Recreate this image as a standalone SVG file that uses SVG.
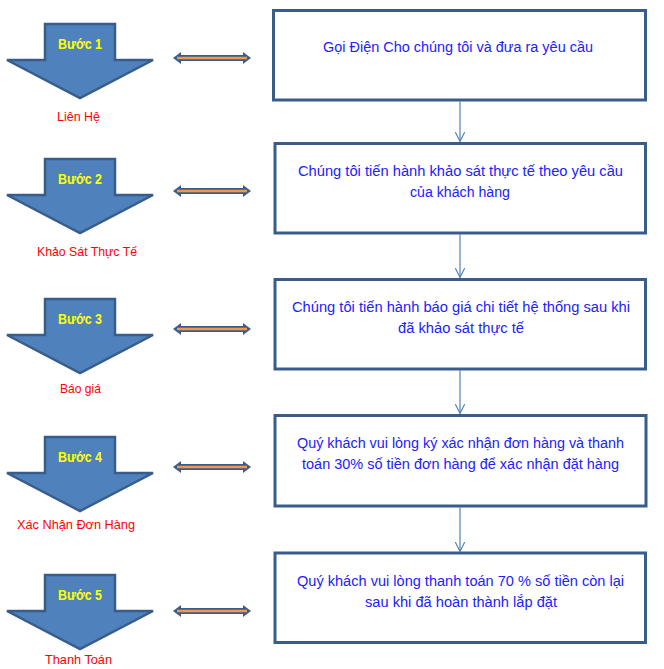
<svg xmlns="http://www.w3.org/2000/svg" width="664" height="669" viewBox="0 0 664 669">
<style>
.bg{fill:#ffffff}
.step{fill:#4f81bd;stroke:#385d8a;stroke-width:2.5;stroke-linejoin:miter}
.stepTxt{font-family:"Liberation Sans",Arial,sans-serif;font-size:14px;font-weight:bold;fill:#ffff00}
.lbl{font-family:"Liberation Sans",Arial,sans-serif;font-size:13px;fill:#ff0000}
.box{fill:#ffffff;stroke:#385d8a;stroke-width:3}
.boxTxt{font-family:"Liberation Sans",Arial,sans-serif;font-size:14px;fill:#2121ff;text-anchor:start}
.dbl{fill:#385d8a}
.dblIn{stroke:#f79646;stroke-width:2.5;fill:none}
.conn{stroke:#4f81bd;stroke-width:1.2;fill:none}
</style>
<defs>
<marker id="open" viewBox="0 0 10 10" refX="10" refY="5" markerWidth="10" markerHeight="10" markerUnits="userSpaceOnUse" orient="auto">
<path d="M0,0 L10,5 L0,10" fill="none" stroke="#4f81bd" stroke-width="1.2"/>
</marker>
<path id="downArrow" d="M45,0 L115,0 L115,36 L153,36 L80,74 L7,36 L45,36 Z"/>
<path id="dblArrow" d="M173,0 L181,-6 L181,-3 L243,-3 L243,-6 L251,0 L243,6 L243,3 L181,3 L181,6 Z"/>
</defs>
<rect class="bg" x="0" y="0" width="664" height="669"/>

<g id="connectors">
<line class="conn" x1="460" y1="101.5" x2="460" y2="141.5" marker-end="url(#open)"/>
<line class="conn" x1="460" y1="234.5" x2="460" y2="277.5" marker-end="url(#open)"/>
<line class="conn" x1="460" y1="370.5" x2="460" y2="413.5" marker-end="url(#open)"/>
<line class="conn" x1="460" y1="507.5" x2="460" y2="551.5" marker-end="url(#open)"/>
<g id="dbl1" transform="translate(0,58)"><use href="#dblArrow" class="dbl"/><line class="dblIn" x1="177" y1="0" x2="247" y2="0"/></g>
<g id="dbl2" transform="translate(0,191)"><use href="#dblArrow" class="dbl"/><line class="dblIn" x1="177" y1="0" x2="247" y2="0"/></g>
<g id="dbl3" transform="translate(0,329)"><use href="#dblArrow" class="dbl"/><line class="dblIn" x1="177" y1="0" x2="247" y2="0"/></g>
<g id="dbl4" transform="translate(0,467)"><use href="#dblArrow" class="dbl"/><line class="dblIn" x1="177" y1="0" x2="247" y2="0"/></g>
<g id="dbl5" transform="translate(0,611)"><use href="#dblArrow" class="dbl"/><line class="dblIn" x1="177" y1="0" x2="247" y2="0"/></g>
</g>

<g id="step1">
<use href="#downArrow" class="step" transform="translate(0,24)"/>
<text class="stepTxt" x="58" y="49" textLength="44" lengthAdjust="spacingAndGlyphs">Bước 1</text>
<text class="lbl" x="57" y="121" textLength="43" lengthAdjust="spacingAndGlyphs">Liên Hệ</text>
</g>
<g id="step2">
<use href="#downArrow" class="step" transform="translate(0,159)"/>
<text class="stepTxt" x="58" y="184" textLength="44" lengthAdjust="spacingAndGlyphs">Bước 2</text>
<text class="lbl" x="37" y="256" textLength="100" lengthAdjust="spacingAndGlyphs">Khảo Sát Thực Tế</text>
</g>
<g id="step3">
<use href="#downArrow" class="step" transform="translate(0,299)"/>
<text class="stepTxt" x="58" y="324" textLength="44" lengthAdjust="spacingAndGlyphs">Bước 3</text>
<text class="lbl" x="60" y="393" textLength="41" lengthAdjust="spacingAndGlyphs">Báo giá</text>
</g>
<g id="step4">
<use href="#downArrow" class="step" transform="translate(0,437)"/>
<text class="stepTxt" x="58" y="462" textLength="44" lengthAdjust="spacingAndGlyphs">Bước 4</text>
<text class="lbl" x="17" y="529" textLength="118" lengthAdjust="spacingAndGlyphs">Xác Nhận Đơn Hàng</text>
</g>
<g id="step5">
<use href="#downArrow" class="step" transform="translate(0,575)"/>
<text class="stepTxt" x="58" y="600" textLength="44" lengthAdjust="spacingAndGlyphs">Bước 5</text>
<text class="lbl" x="45" y="664" textLength="67" lengthAdjust="spacingAndGlyphs">Thanh Toán</text>
</g>

<g id="box1">
<rect class="box" x="273.5" y="10.5" width="372" height="89.5"/>
<text class="boxTxt" x="323" y="52" textLength="270" lengthAdjust="spacingAndGlyphs">Gọi Điện Cho chúng tôi và đưa ra yêu cầu</text>
</g>
<g id="box2">
<rect class="box" x="275" y="143.5" width="370.5" height="89.5"/>
<text class="boxTxt" x="298" y="176" textLength="325" lengthAdjust="spacingAndGlyphs">Chúng tôi tiến hành khảo sát thực tế theo yêu cầu</text>
<text class="boxTxt" x="410" y="197" textLength="100" lengthAdjust="spacingAndGlyphs">của khách hàng</text>
</g>
<g id="box3">
<rect class="box" x="275" y="279.5" width="370.5" height="89.5"/>
<text class="boxTxt" x="292" y="312" textLength="338" lengthAdjust="spacingAndGlyphs">Chúng tôi tiến hành báo giá chi tiết hệ thống sau khi</text>
<text class="boxTxt" x="398" y="333" textLength="126" lengthAdjust="spacingAndGlyphs">đã khảo sát thực tế</text>
</g>
<g id="box4">
<rect class="box" x="275" y="415.5" width="371" height="90.5"/>
<text class="boxTxt" x="297" y="448" textLength="327" lengthAdjust="spacingAndGlyphs">Quý khách vui lòng ký xác nhận đơn hàng và thanh</text>
<text class="boxTxt" x="302" y="469" textLength="317" lengthAdjust="spacingAndGlyphs">toán 30% số tiền đơn hàng để xác nhận đặt hàng</text>
</g>
<g id="box5">
<rect class="box" x="275" y="553" width="370.5" height="89.5"/>
<text class="boxTxt" x="297" y="586" textLength="327" lengthAdjust="spacingAndGlyphs">Quý khách vui lòng thanh toán 70 % số tiền còn lại</text>
<text class="boxTxt" x="365" y="607" textLength="192" lengthAdjust="spacingAndGlyphs">sau khi đã hoàn thành lắp đặt</text>
</g>
</svg>
